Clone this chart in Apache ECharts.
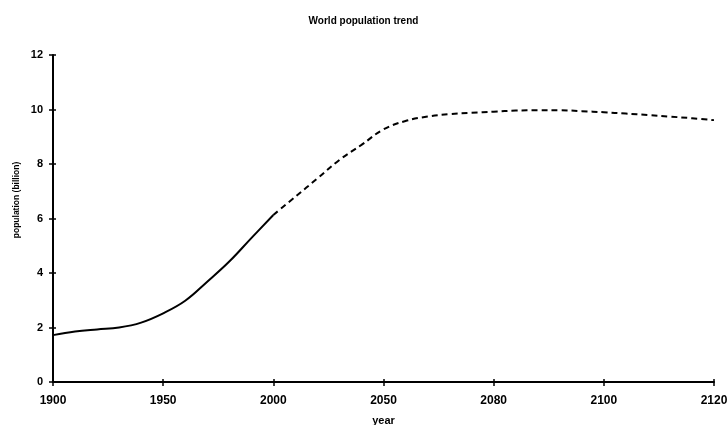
<!DOCTYPE html>
<html>
<head>
<meta charset="utf-8">
<script src="https://cdn.jsdelivr.net/npm/echarts@6/dist/echarts.min.js"></script>
<style>html,body{margin:0;padding:0;background:#fff}#c{width:727px;height:425px}</style>
</head>
<body>
<div id="c"></div>
<script>
// x categories (non-linear axis: equal spacing between labelled years)
const years = ['1900','1910','1920','1930','1940','1950','1960','1970','1980','1990','2000',
  '2010','2020','2030','2040','2050','2056','2062','2068','2074','2080',
  '2084','2088','2092','2096','2100','2104','2108','2112','2116','2120'];
const tickLabels = ['1900','1950','2000','2050','2080','2100','2120'];
// historical (solid) 1900-2000
const historical = [1.72,1.85,1.93,2.0,2.18,2.52,2.98,3.68,4.42,5.28,6.13];
// projection (dashed) 2000-2120
const projection = [6.13,6.8,7.47,8.15,8.7,9.27,9.58,9.74,9.83,9.88,9.92,
  9.96,9.97,9.97,9.94,9.9,9.85,9.8,9.74,9.68,9.61];

const histData = years.map((y,i)=> i < historical.length ? historical[i] : null);
const projStart = historical.length - 1;
const projData = years.map((y,i)=> i >= projStart ? projection[i-projStart] : null);

const isMain = (i, v) => tickLabels.indexOf(years[i]) >= 0;
const font = 'Liberation Sans, Arial, sans-serif';

const chart = echarts.init(document.getElementById('c'));
chart.setOption({
  animation: false,
  title: {
    text: 'World population trend', left: 'center', top: 11,
    textStyle: {fontFamily: font, fontSize: 10, fontWeight: 'bold', color: '#000'}
  },
  grid: {left: 53, right: 13, top: 55, bottom: 43, containLabel: false, outerBoundsMode: 'none'},
  graphic: [{
    type: 'text', x: 17, y: 200, rotation: Math.PI / 2,
    style: {text: 'population (billion)', fontFamily: font, fontSize: 8.5, fontWeight: 'bold',
      fill: '#000', align: 'center', verticalAlign: 'middle'}
  }],
  xAxis: [{
    type: 'category', data: years, boundaryGap: false,
    name: 'year', nameLocation: 'middle', nameGap: 33,
    nameTextStyle: {fontFamily: font, fontSize: 11, fontWeight: 'bold', color: '#000'},
    axisLine: {lineStyle: {color: '#000', width: 2}},
    axisTick: {interval: isMain, length: 4, lineStyle: {color: '#000', width: 1.5}},
    axisLabel: {interval: isMain, margin: 13, fontFamily: font, fontSize: 12, fontWeight: 'bold', color: '#000'},
    splitLine: {show: false}
  }, {
    type: 'category', data: years, boundaryGap: false, position: 'bottom',
    axisLine: {show: false},
    axisTick: {show: true, inside: true, interval: isMain, length: 3, lineStyle: {color: '#000', width: 1.5}},
    axisLabel: {show: false}, splitLine: {show: false}
  }],
  yAxis: [{
    type: 'value', min: 0, max: 12, interval: 2,
    axisLine: {show: true, lineStyle: {color: '#000', width: 2}},
    axisTick: {show: true, length: 4, lineStyle: {color: '#000', width: 1.5}},
    axisLabel: {margin: 10, fontFamily: font, fontSize: 11, fontWeight: 'bold', color: '#000'},
    splitLine: {show: false}
  }, {
    type: 'value', min: 0, max: 12, interval: 2, position: 'left',
    axisLine: {show: false},
    axisTick: {show: true, inside: true, length: 3, lineStyle: {color: '#000', width: 1.5}},
    axisLabel: {show: false}, splitLine: {show: false}
  }],
  series: [
    {type: 'line', data: histData, smooth: 0.4, showSymbol: false, connectNulls: false,
     lineStyle: {color: '#000', width: 2}},
    {type: 'line', data: projData, smooth: 0.4, showSymbol: false, connectNulls: false,
     lineStyle: {color: '#000', width: 2, type: [6, 4]}}
  ]
});
</script>
</body>
</html>
